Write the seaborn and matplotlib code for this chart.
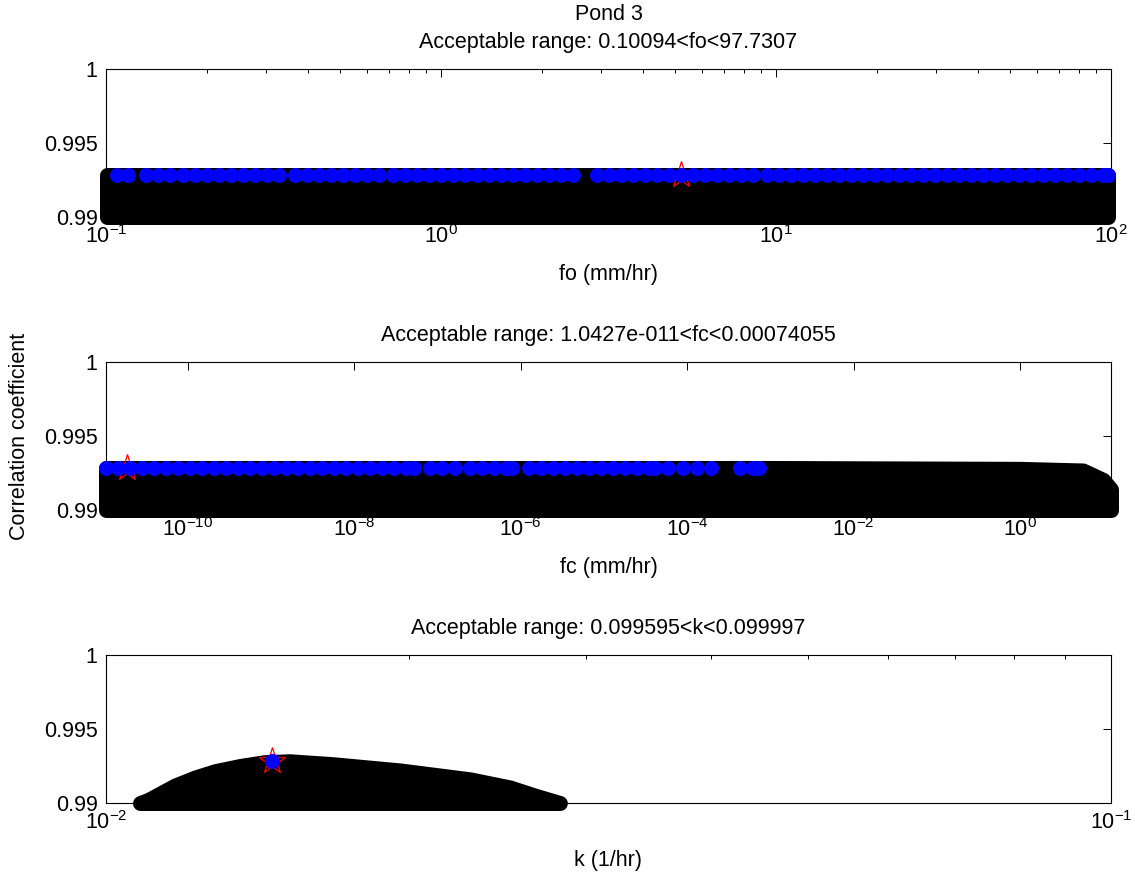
import numpy as np
import matplotlib
matplotlib.use("Agg")
import matplotlib.pyplot as plt
import matplotlib.ticker as mticker
import seaborn as sns

sns.set_style("white")
plt.rcParams["font.family"] = ["Liberation Sans", "DejaVu Sans"]
plt.rcParams["mathtext.fontset"] = "custom"
plt.rcParams["mathtext.rm"] = "Liberation Sans"
plt.rcParams["mathtext.it"] = "Liberation Sans:italic"
plt.rcParams["mathtext.bf"] = "Liberation Sans:bold"
plt.rcParams["text.color"] = "black"
plt.rcParams["axes.labelcolor"] = "black"
plt.rcParams["xtick.color"] = "black"
plt.rcParams["ytick.color"] = "black"

FS = 15.5

# ---------------- data ----------------
best_corr = 0.99284
corr_floor = 0.99

# fo panel
fo_cloud_x = [0.10094, 97.7307]
fo_cloud_top = [0.99284, 0.99284]
fo_blue = [0.1075, 0.1160, 0.1316, 0.1429, 0.1552, 0.1698, 0.1844, 0.2002, 0.2175,
           0.2361, 0.2564, 0.2784, 0.3023, 0.3284, 0.3666, 0.3981, 0.4323, 0.4694,
           0.5098, 0.5536, 0.6014, 0.6531, 0.7190, 0.7809, 0.8479, 0.9209, 1.0,
           1.086, 1.179, 1.281, 1.391, 1.510, 1.640, 1.781, 1.935, 2.101, 2.282,
           2.477, 2.922, 3.173, 3.446, 3.742, 4.064, 4.413, 4.793, 5.204, 5.652,
           6.138, 6.666, 7.238, 7.861, 8.537, 9.400, 10.21, 11.09, 12.04, 13.07,
           14.20, 15.42, 16.74, 18.18, 19.74, 21.44, 23.28, 25.29, 27.46, 29.82,
           32.38, 35.17, 38.19, 41.47, 45.04, 48.91, 53.11, 57.68, 62.64, 68.02,
           73.87, 80.22, 87.12, 94.65, 97.73]
fo_best = 5.2

# fc panel
fc_cloud_x = [1.0427e-11, 1e-3, 0.1, 1.0, 5.7, 10.0, 12.4]
fc_cloud_top = [0.99284, 0.99284, 0.99280, 0.99278, 0.99267, 0.99203, 0.99140]
fc_blue_exp = [-10.982, -10.841, -10.697, -10.553, -10.409, -10.264, -10.120, -9.976,
               -9.832, -9.688, -9.543, -9.399, -9.255, -9.111, -8.966, -8.822, -8.678,
               -8.534, -8.389, -8.245, -8.101, -7.957, -7.812, -7.668, -7.524, -7.380,
               -7.284, -7.091, -6.947, -6.791, -6.611, -6.466, -6.322, -6.178, -6.106,
               -5.901, -5.757, -5.613, -5.469, -5.325, -5.180, -5.036, -4.892, -4.748,
               -4.603, -4.459, -4.387, -4.231, -4.050, -3.882, -3.714, -3.365, -3.210,
               -3.130]
fc_best = 1.85e-11

# k panel
k_cloud_x = [0.01081, 0.01101, 0.01132, 0.01171, 0.01226, 0.01284, 0.01359, 0.01439,
             0.01524, 0.01682, 0.01961, 0.02302, 0.02523, 0.02672, 0.02765, 0.02829]
k_cloud_top = [0.99000, 0.99020, 0.99064, 0.99118, 0.99172, 0.99215, 0.99250, 0.99276,
               0.99282, 0.99262, 0.99220, 0.99160, 0.99105, 0.99050, 0.99020, 0.99000]
k_blue = [0.01463]
k_best = 0.01463

titles = ["Pond 3\nAcceptable range: 0.10094<fo<97.7307",
          "Acceptable range: 1.0427e-011<fc<0.00074055",
          "Acceptable range: 0.099595<k<0.099997"]
xlabels = ["fo (mm/hr)", "fc (mm/hr)", "k (1/hr)"]
ylabel = "Correlation coefficient"
yticks = [0.99, 0.995, 1.0]
yticklabels = ["0.99", "0.995", "1"]

# ---------------- figure ----------------
W, H = 1135, 877
fig = plt.figure(figsize=(W / 100, H / 100), dpi=100)
left = 106 / W
width = (1111 - 106) / W
ax_h = 148 / H
axes = [fig.add_axes([left, 1 - 217 / H, width, ax_h]),
        fig.add_axes([left, 1 - 510 / H, width, ax_h]),
        fig.add_axes([left, 1 - 803 / H, width, ax_h])]

MS = 10.8  # marker diameter in points


def draw_panel(ax, cx, ctop, bx, best_x, xlim):
    ax.set_xscale("log")
    ax.fill_between(cx, corr_floor, ctop, facecolor="black", edgecolor="black",
                    linewidth=MS, joinstyle="round", clip_on=False, zorder=3)
    ax.plot([best_x], [best_corr], marker="*", ms=20, mfc="none", mec="red",
            mew=0.9, ls="none", clip_on=False, zorder=4)
    sns.scatterplot(x=bx, y=np.full(len(bx), best_corr), ax=ax, color="blue",
                    s=MS ** 2, linewidth=0, clip_on=False, zorder=5, legend=False)
    ax.set_xlim(*xlim)
    ax.set_ylim(0.99, 1.0)
    ax.set_yticks(yticks)
    ax.set_yticklabels(yticklabels)
    for sp in ax.spines.values():
        sp.set_visible(True)
        sp.set_color("black")
        sp.set_linewidth(0.8)
    ax.tick_params(which="both", direction="in", top=True, right=True,
                   labelsize=FS, colors="black", width=0.7)
    ax.tick_params(which="major", length=6)
    ax.tick_params(which="minor", length=3)
    ax.tick_params(axis="x", pad=6)
    ax.tick_params(axis="y", pad=6)


draw_panel(axes[0], fo_cloud_x, fo_cloud_top, fo_blue, fo_best, (0.1, 100))
axes[0].xaxis.set_major_locator(mticker.LogLocator(base=10, numticks=10))
axes[0].xaxis.set_minor_locator(mticker.LogLocator(base=10, subs=np.arange(2, 10), numticks=10))
axes[0].xaxis.set_minor_formatter(mticker.NullFormatter())

fc_blue = [10 ** e for e in fc_blue_exp]
draw_panel(axes[1], fc_cloud_x, fc_cloud_top, fc_blue, fc_best, (1.0427e-11, 12.4))
axes[1].xaxis.set_major_locator(mticker.FixedLocator([1e-10, 1e-8, 1e-6, 1e-4, 1e-2, 1e0]))
axes[1].xaxis.set_major_formatter(mticker.LogFormatterSciNotation())
axes[1].xaxis.set_minor_locator(mticker.NullLocator())

draw_panel(axes[2], k_cloud_x, k_cloud_top, k_blue, k_best, (0.01, 0.1))
axes[2].xaxis.set_major_locator(mticker.LogLocator(base=10, numticks=10))
axes[2].xaxis.set_minor_locator(mticker.LogLocator(base=10, subs=np.arange(2, 10), numticks=10))
axes[2].xaxis.set_minor_formatter(mticker.NullFormatter())

for ax, t, xl in zip(axes, titles, xlabels):
    ax.set_title(t, fontsize=FS, pad=15, linespacing=1.45, color="black")
    ax.set_xlabel(xl, fontsize=FS, labelpad=11)
axes[1].set_ylabel(ylabel, fontsize=FS, labelpad=10)

fig.savefig("out.png", dpi=100, facecolor="white")
